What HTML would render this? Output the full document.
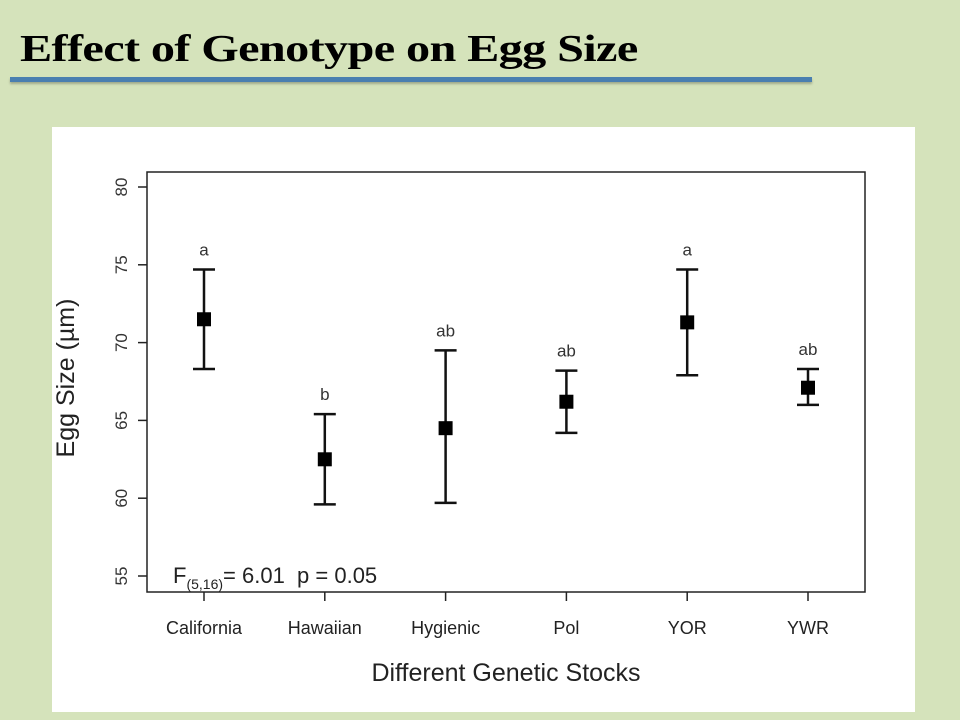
<!DOCTYPE html>
<html><head><meta charset="utf-8"><style>
body{margin:0;width:960px;height:720px;background:#d5e3bb;position:relative;overflow:hidden;font-family:"Liberation Sans",sans-serif}
#title{position:absolute;left:20px;top:27px;font-family:"Liberation Serif",serif;font-size:38px;font-weight:bold;letter-spacing:-0.5px;color:#000;margin:0;transform:scaleX(1.27);transform-origin:0 0;white-space:nowrap}
#rule{position:absolute;left:10px;top:77px;width:802px;height:5px;background:#4a7fb0;box-shadow:0 2px 2px rgba(0,0,0,0.25)}
#panel{position:absolute;left:52px;top:127px;width:863px;height:585px;background:#fff}
svg{position:absolute;left:0;top:0}
</style></head><body>
<h1 id="title">Effect of Genotype on Egg Size</h1>
<div id="rule"></div>
<div id="panel"></div>
<svg id="chart" width="960" height="720"></svg>
<script>
const categories=["California","Hawaiian","Hygienic","Pol","YOR","YWR"];
const means=[71.5,62.5,64.5,66.2,71.3,67.1];
const lows=[68.3,59.6,59.7,64.2,67.9,66.0];
const highs=[74.7,65.4,69.5,68.2,74.7,68.3];
const letters=["a","b","ab","ab","a","ab"];
const yTicks=[55,60,65,70,75,80];
const NS="http://www.w3.org/2000/svg";
const svg=document.getElementById('chart');
const L=147,R=865,T=172,B=592;
function y(v){return 576+(v-55)*(187-576)/25;}
function x(i){return 204+i*120.8;}
function mk(tag,a,txt){const e=document.createElementNS(NS,tag);for(const k in a)e.setAttribute(k,a[k]);if(txt!==undefined)e.textContent=txt;svg.appendChild(e);return e;}
let e=mk('rect',{x:L,y:T,width:R-L,height:B-T,fill:'none',stroke:'#222','stroke-width':1.5});


yTicks.forEach(v=>{
 let t=mk('line',{x1:L-9,x2:L,y1:y(v),y2:y(v),stroke:'#222','stroke-width':1.5});
 
 
 let l=mk('text',{x:0,y:0,transform:`translate(${L-20},${y(v)}) rotate(-90)`,'text-anchor':'middle','font-size':17,fill:'#333'},v);
 
 
});
categories.forEach((c,i)=>{
 const cx=x(i);
 let t=mk('line',{x1:cx,x2:cx,y1:B,y2:B+9,stroke:'#222','stroke-width':1.5});
 
 
 let l=mk('text',{x:cx,y:634,'text-anchor':'middle','font-size':18,fill:'#222'},c);
 
 
 let g=document.createElementNS(NS,'g');svg.appendChild(g);
 
 
 [[cx,y(lows[i]),cx,y(highs[i])],[cx-11,y(lows[i]),cx+11,y(lows[i])],[cx-11,y(highs[i]),cx+11,y(highs[i])]].forEach(p=>{
  const ln=document.createElementNS(NS,'line');
  ln.setAttribute('x1',p[0]);ln.setAttribute('y1',p[1]);ln.setAttribute('x2',p[2]);ln.setAttribute('y2',p[3]);
  ln.setAttribute('stroke','#111');ln.setAttribute('stroke-width',2.5);g.appendChild(ln);
 });
 let m=mk('rect',{x:cx-7,y:y(means[i])-7,width:14,height:14,fill:'#000'});
 
 
 let s=mk('text',{x:cx,y:y(highs[i])-14,'text-anchor':'middle','font-size':17,fill:'#333'},letters[i]);
 
 
});
e=mk('text',{x:0,y:0,transform:'translate(74,378) rotate(-90)','text-anchor':'middle','font-size':25,fill:'#222'},'Egg Size (µm)');


e=mk('text',{x:506,y:681,'text-anchor':'middle','font-size':25,fill:'#222'},'Different Genetic Stocks');


e=mk('text',{x:173,y:583,'font-size':22,fill:'#222',style:'white-space:pre'});


e.innerHTML='F<tspan font-size="14" dy="6">(5,16)</tspan><tspan dy="-6">= 6.01  p = 0.05</tspan>';
</script>
</body></html>
